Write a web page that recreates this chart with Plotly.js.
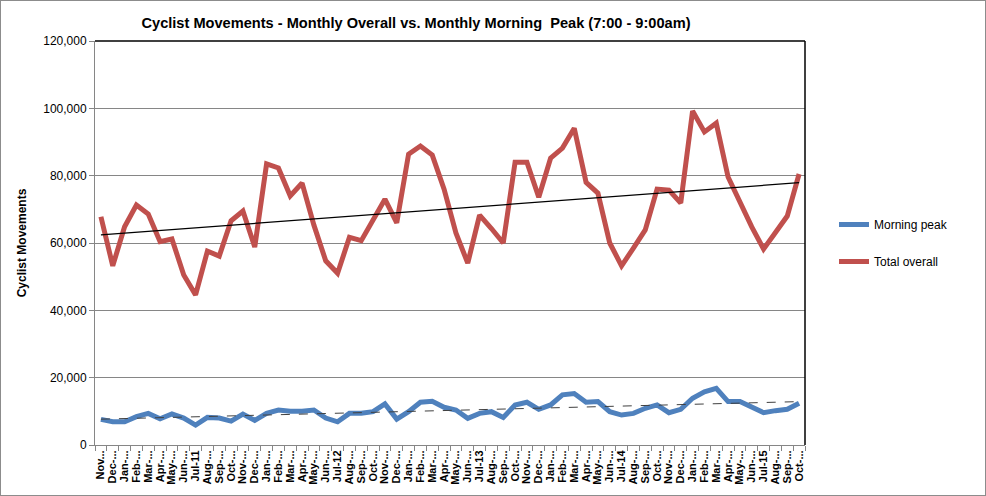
<!DOCTYPE html>
<html>
<head>
<meta charset="utf-8">
<script src="https://cdn.plot.ly/plotly-3.0.1.min.js"></script>
<style>
  html, body { margin: 0; padding: 0; background: #fff; }
  #frame { width: 984px; height: 494px; border: 1px solid #8c8c8c; }
  #chart { width: 984px; height: 494px; }
</style>
</head>
<body>
<div id="frame"><div id="chart"></div></div>
<script>
// Months Nov-2010 .. Oct-2015
const months = [
  'Nov-10','Dec-10','Jan-11','Feb-11','Mar-11','Apr-11','May-11','Jun-11','Jul-11','Aug-11','Sep-11','Oct-11',
  'Nov-11','Dec-11','Jan-12','Feb-12','Mar-12','Apr-12','May-12','Jun-12','Jul-12','Aug-12','Sep-12','Oct-12',
  'Nov-12','Dec-12','Jan-13','Feb-13','Mar-13','Apr-13','May-13','Jun-13','Jul-13','Aug-13','Sep-13','Oct-13',
  'Nov-13','Dec-13','Jan-14','Feb-14','Mar-14','Apr-14','May-14','Jun-14','Jul-14','Aug-14','Sep-14','Oct-14',
  'Nov-14','Dec-14','Jan-15','Feb-15','Mar-15','Apr-15','May-15','Jun-15','Jul-15','Aug-15','Sep-15','Oct-15'
];
// Tick labels as displayed (Excel truncation)
const tickLabels = [
  'Nov...','Dec-...','Jan-...','Feb-...','Mar-...','Apr-...','May-...','Jun-...','Jul-11','Aug-...','Sep-...','Oct-...',
  'Nov-...','Dec-...','Jan-...','Feb-...','Mar-...','Apr-...','May-...','Jun-...','Jul-12','Aug-...','Sep-...','Oct-...',
  'Nov-...','Dec-...','Jan-...','Feb-...','Mar-...','Apr-...','May-...','Jun-...','Jul-13','Aug-...','Sep-...','Oct-...',
  'Nov-...','Dec-...','Jan-...','Feb-...','Mar-...','Apr-...','May-...','Jun-...','Jul-14','Aug-...','Sep-...','Oct-...',
  'Nov-...','Dec-...','Jan-...','Feb-...','Mar-...','Apr-...','May-...','Jun-...','Jul-15','Aug-...','Sep-...','Oct-...'
];
const morningPeak = [
  7600, 6900, 6900, 8400, 9400, 7800, 9200, 8000, 5900, 8200, 8000, 7100,
  9200, 7300, 9400, 10400, 10000, 10000, 10400, 8000, 6900, 9400, 9400, 9900,
  12200, 7700, 9900, 12700, 13000, 11200, 10400, 7900, 9400, 9900, 8200, 11900,
  12700, 10600, 11900, 14900, 15300, 12700, 12900, 9900, 8900, 9400, 10900, 11900,
  9600, 10600, 13900, 15800, 16800, 12900, 12900, 11400, 9600, 10200, 10600, 12400
];
const totalOverall = [
  67800, 53200, 64800, 71300, 68600, 60400, 61200, 50500, 44600, 57600, 56100, 66600,
  69500, 58800, 83500, 82300, 74000, 77800, 65300, 54700, 51000, 61700, 60700, 66800,
  73000, 66000, 86400, 88800, 86100, 76000, 63000, 54000, 68300, 64300, 60000, 84000,
  84000, 73600, 85200, 88200, 94100, 78000, 74800, 60000, 53200, 58500, 63900, 76000,
  75700, 71900, 99200, 93000, 95600, 79600, 71900, 64800, 58200, 63000, 68000, 80500
];
const seriesNames = ['Morning peak', 'Total overall'];
const seriesColors = ['#4F81BD', '#C0504D'];

// Linear (least squares) trend, as Excel trendline
function linearTrend(vals) {
  const n = vals.length;
  let sx = 0, sy = 0, sxx = 0, sxy = 0;
  vals.forEach((v, i) => { sx += i; sy += v; sxx += i * i; sxy += i * v; });
  const b = (n * sxy - sx * sy) / (n * sxx - sx * sx);
  const a = (sy - b * sx) / n;
  return vals.map((v, i) => a + b * i);
}

const traces = [
  { x: months, y: morningPeak, type: 'scatter', mode: 'lines', name: seriesNames[0],
    line: { color: seriesColors[0], width: 5 }, legendgroup: 'a' },
  { x: months, y: totalOverall, type: 'scatter', mode: 'lines', name: seriesNames[1],
    line: { color: seriesColors[1], width: 5 }, legendgroup: 'b' },
  { x: months, y: linearTrend(morningPeak), type: 'scatter', mode: 'lines', showlegend: false,
    line: { color: '#404040', width: 1, dash: 'dash' }, hoverinfo: 'skip' },
  { x: months, y: linearTrend(totalOverall), type: 'scatter', mode: 'lines', showlegend: false,
    line: { color: '#000000', width: 1.3 }, hoverinfo: 'skip' }
];

const font = 'Liberation Sans, Arial, sans-serif';
const layout = {
  width: 984, height: 494,
  margin: { l: 94, r: 180, t: 40, b: 50 },
  paper_bgcolor: '#ffffff', plot_bgcolor: '#ffffff',
  font: { family: font, size: 12, color: '#000' },
  title: { text: '<b>Cyclist Movements - Monthly Overall vs. Monthly Morning  Peak (7:00 - 9:00am)</b>',
    font: { family: font, size: 14.6, color: '#000' },
    x: 415 / 984, xanchor: 'center', y: 1 - 22 / 494, yanchor: 'middle' },
  xaxis: {
    type: 'category', categoryorder: 'array', categoryarray: months,
    tickmode: 'array', tickvals: months, ticktext: tickLabels,
    tickangle: -90, tickfont: { family: font, size: 11, color: '#000', weight: 'bold' },
    ticks: 'outside', tickson: 'boundaries', ticklen: 5, tickcolor: '#868686',
    showline: true, linecolor: '#868686', linewidth: 1,
    showgrid: false, zeroline: false, range: [-0.5, 59.5], fixedrange: true
  },
  yaxis: {
    range: [0, 120000], tickvals: [0, 20000, 40000, 60000, 80000, 100000, 120000],
    ticktext: ['0', '20,000', '40,000', '60,000', '80,000', '100,000', '120,000'],
    tickfont: { family: font, size: 12, color: '#000' },
    ticks: 'outside', ticklen: 5, tickcolor: '#868686',
    showline: true, linecolor: '#868686', linewidth: 1,
    showgrid: true, gridcolor: '#868686', gridwidth: 1, zeroline: false,
    title: { text: '<b>Cyclist Movements</b>', font: { family: font, size: 12, color: '#000' }, standoff: 14 }
  },
  showlegend: true,
  legend: {
    x: (834 - 95) / 710, xanchor: 'left', y: 0.5, yanchor: 'middle',
    font: { family: font, size: 12, color: '#000' },
    traceorder: 'grouped', tracegroupgap: 18, bgcolor: 'rgba(0,0,0,0)'
  },
  shapes: [
    { type: 'line', xref: 'paper', yref: 'paper', x0: 0, x1: 1, y0: 1, y1: 1, line: { color: '#000', width: 1.5 } },
    { type: 'line', xref: 'paper', yref: 'paper', x0: 1, x1: 1, y0: 0, y1: 1, line: { color: '#000', width: 1.5 } }
  ]
};

Plotly.newPlot('chart', traces, layout, { displayModeBar: false, staticPlot: true });
</script>
</body>
</html>
